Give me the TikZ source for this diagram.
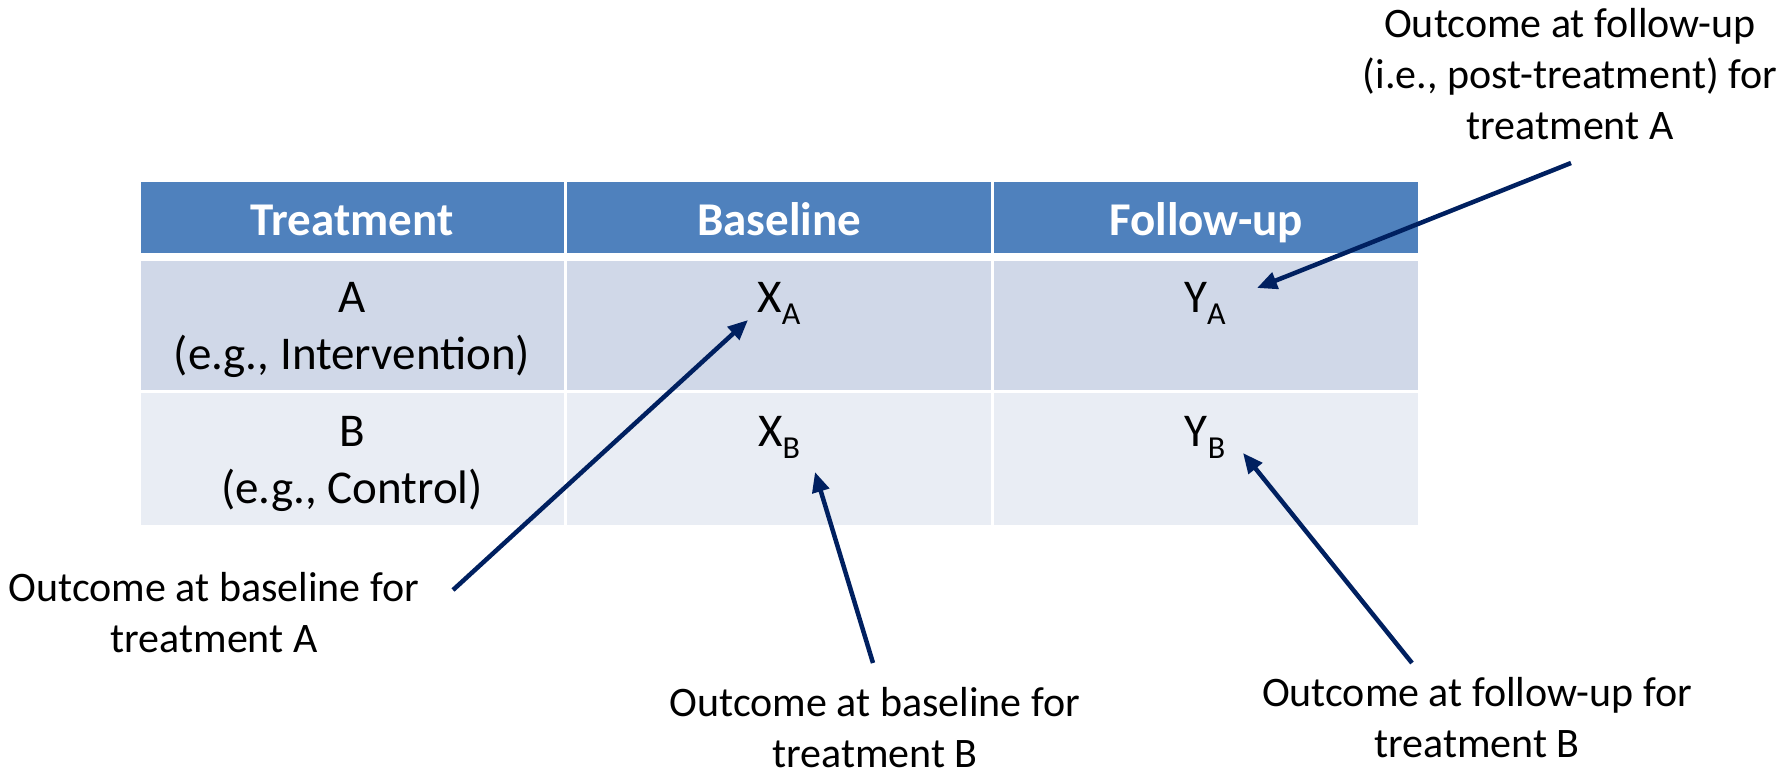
\documentclass[tikz,border=0pt]{standalone}
\usepackage{fontspec}
\setmainfont{Carlito}
\usetikzlibrary{arrows.meta}
\definecolor{hdr}{HTML}{4F81BD}
\definecolor{rowa}{HTML}{D0D8E8}
\definecolor{rowb}{HTML}{E9EDF4}
\definecolor{arr}{HTML}{002060}
\newcommand\mysub[1]{\raisebox{-6pt}{\fontsize{16}{16}\selectfont #1}}
\begin{document}
\begin{tikzpicture}[x=0.5pt,y=-0.5pt,
  hd/.style={text=white, font=\fontsize{23.5}{28.5}\selectfont\bfseries, anchor=base, inner sep=0pt},
  cell/.style={font=\fontsize{23.5}{28.5}\selectfont, anchor=base, inner sep=0pt, align=center},
  lbl/.style={font=\fontsize{21}{25.5}\selectfont, anchor=base, inner sep=0pt, align=center},
  pointer/.style={draw=arr, line width=2.25pt, -{Triangle[length=10pt,width=8.5pt]}}]
\useasboundingbox (0,0) rectangle (1787,773);
% header
\fill[hdr] (141,182) rectangle (564,253);
\fill[hdr] (567,182) rectangle (991,253);
\fill[hdr] (994,182) rectangle (1418,253);
% row A
\fill[rowa] (141,261) rectangle (564,390);
\fill[rowa] (567,261) rectangle (991,390);
\fill[rowa] (994,261) rectangle (1418,390);
% row B
\fill[rowb] (141,393) rectangle (564,525);
\fill[rowb] (567,393) rectangle (991,525);
\fill[rowb] (994,393) rectangle (1418,525);
% header text
\node[hd] (h1) at (352,235) {Treatment};
\node[hd] (h2) at (779,235) {Baseline};
\node[hd] (h3) at (1206,235) {Follow-up};
% cells (base anchor = last line's baseline)
\node[cell] (ta) at (352,369) {A\\(e.g., Intervention)};
\node[cell] (tb) at (352,503) {B\\(e.g., Control)};
\node[cell] (xa) at (779,312) {X\mysub{A}};
\node[cell] (ya) at (1205,312) {Y\mysub{A}};
\node[cell] (xb) at (779,446) {X\mysub{B}};
\node[cell] (yb) at (1205,446) {Y\mysub{B}};
% labels
\node[lbl] (ltr) at (1570,139) {Outcome at follow-up\\(i.e., post-treatment) for\\treatment A};
\node[lbl] (ll) at (214,652) {Outcome at baseline for\\treatment A};
\node[lbl] (lbm) at (875,767) {Outcome at baseline for\\treatment B};
\node[lbl] (lbr) at (1477,757) {Outcome at follow-up for\\treatment B};
% arrows
\coordinate (t1) at (453,590); \coordinate (p1) at (748,320);
\coordinate (t2) at (873,663); \coordinate (p2) at (815,472);
\coordinate (t3) at (1412,663); \coordinate (p3) at (1243,453);
\coordinate (t4) at (1571,163); \coordinate (p4) at (1257,288);
\draw[pointer] (t1) -- (p1);
\draw[pointer] (t2) -- (p2);
\draw[pointer] (t3) -- (p3);
\draw[pointer] (t4) -- (p4);
\end{tikzpicture}
\end{document}
